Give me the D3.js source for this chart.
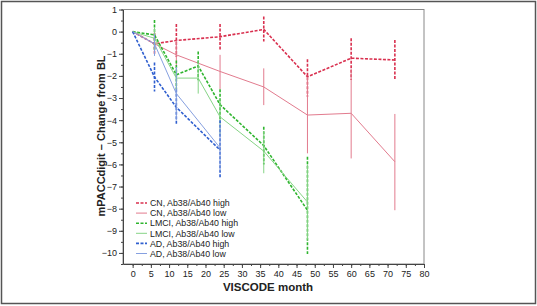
<!DOCTYPE html>
<html>
<head>
<meta charset="utf-8">
<script src="https://cdn.jsdelivr.net/npm/d3@7"></script>
<style>
  body { margin: 0; background: #fff; }
  svg { display: block; font-family: "Liberation Sans", Arial, sans-serif; }
</style>
</head>
<body>
<div id="chart"></div>
<script>
// values (mean, upper and lower end of the error bar)
const cnHighX = [0, 6, 12, 24, 36, 48, 60, 72];
const cnHighY = [0, -0.55, -0.4, -0.23, 0.1, -2.04, -1.2, -1.28];
const cnHighHi = [0, -0.05, 0.35, 0.35, 0.68, -1.25, -0.3, -0.38];
const cnHighLo = [0, -1.05, -1.15, -0.83, -0.45, -2.94, -2.19, -2.19];

const cnLowX = [0, 6, 12, 24, 36, 48, 60, 72];
const cnLowY = [0, -0.55, -1.05, -1.8, -2.5, -3.77, -3.69, -5.88];
const cnLowHi = [0, -0.1, -0.4, -1.05, -1.66, -2.05, -1.7, -3.72];
const cnLowLo = [0, -1.0, -1.7, -2.6, -3.32, -5.5, -5.73, -8.07];

const lmciHighX = [0, 6, 12, 18, 24, 36, 48];
const lmciHighY = [0, -0.15, -1.95, -1.55, -3.3, -5.15, -8.07];
const lmciHighHi = [0, 0.53, -1.3, -0.9, -2.6, -4.3, -5.65];
const lmciHighLo = [0, -0.85, -2.6, -2.2, -4.0, -6.0, -10.05];

const lmciLowX = [0, 6, 12, 18, 24, 36, 48];
const lmciLowY = [0, -0.3, -2.1, -2.1, -3.85, -5.4, -7.7];
const lmciLowHi = [0, 0.2, -1.6, -1.3, -3.0, -4.5, -6.0];
const lmciLowLo = [0, -0.8, -2.6, -2.8, -4.7, -6.4, -9.4];

const adHighX = [0, 6, 12, 24];
const adHighY = [0, -2.05, -3.42, -5.35];
const adHighHi = [0, -1.4, -2.6, -4.0];
const adHighLo = [0, -2.7, -4.22, -6.65];

const adLowX = [0, 6, 12, 24];
const adLowY = [0, -0.55, -2.8, -5.25];
const adLowHi = [0, -0.1, -1.6, -4.2];
const adLowLo = [0, -1.1, -4.0, -6.3];

const seriesNames = ["CN, Ab38/Ab40 high", "CN, Ab38/Ab40 low", "LMCI, Ab38/Ab40 high",
                     "LMCI, Ab38/Ab40 low", "AD, Ab38/Ab40 high", "AD, Ab38/Ab40 low"];
const xTicks = d3.range(0, 81, 5);
const yTicks = d3.range(-10, 2, 1);

const W = 537, H = 306;
const svg = d3.select("#chart").append("svg").attr("width", W).attr("height", H);

// outer frame
svg.append("rect").attr("x", 1.5).attr("y", 1.5).attr("width", W - 3).attr("height", H - 4)
    .attr("fill", "none").attr("stroke", "#555").attr("stroke-width", 1.5);

const x = d3.scaleLinear().domain([-2.65, 80]).range([123, 424]);
const y = d3.scaleLinear().domain([-10.5, 1]).range([264, 9.5]);

// plot box
svg.append("rect").attr("x", x.range()[0]).attr("y", y.range()[1])
    .attr("width", x.range()[1] - x.range()[0]).attr("height", y.range()[0] - y.range()[1])
    .attr("fill", "none").attr("stroke", "#888").attr("stroke-width", 1);

// minor ticks
svg.append("g").attr("transform", `translate(0,${y.range()[0]})`)
    .call(d3.axisBottom(x).tickValues(d3.range(0, 81, 2.5)).tickSize(2).tickFormat(""))
    .call(g => g.select(".domain").remove())
    .selectAll("line").attr("stroke", "#444");
svg.append("g").attr("transform", `translate(${x.range()[0]},0)`)
    .call(d3.axisLeft(y).tickValues(d3.range(-10.5, 1.01, 0.5)).tickSize(2).tickFormat(""))
    .call(g => g.select(".domain").remove())
    .selectAll("line").attr("stroke", "#444");

const xAxis = svg.append("g").attr("transform", `translate(0,${y.range()[0]})`)
    .call(d3.axisBottom(x).tickValues(xTicks).tickSize(4).tickPadding(3).tickSizeOuter(0));
xAxis.select(".domain").attr("stroke", "#444");
xAxis.selectAll("line").attr("stroke", "#444");
xAxis.selectAll("text").attr("font-size", 9).attr("fill", "#222").attr("font-family", "Liberation Sans, Arial, sans-serif");

const yAxis = svg.append("g").attr("transform", `translate(${x.range()[0]},0)`)
    .call(d3.axisLeft(y).tickValues(yTicks).tickSize(4).tickPadding(2).tickSizeOuter(0));
yAxis.select(".domain").attr("stroke", "#444");
yAxis.selectAll("line").attr("stroke", "#444");
yAxis.selectAll("text").attr("font-size", 9).attr("fill", "#222").attr("font-family", "Liberation Sans, Arial, sans-serif");

svg.append("text").attr("x", 268).attr("y", 291).attr("text-anchor", "middle")
    .attr("font-size", 11.5).attr("font-weight", "bold").attr("fill", "#222").text("VISCODE month");
svg.append("text").attr("transform", "translate(105,136) rotate(-90)").attr("text-anchor", "middle")
    .attr("font-size", 11).attr("font-weight", "bold").attr("fill", "#222").text("mPACCdigit \u2013 Change from BL");

const series = [
    { xs: cnHighX, ys: cnHighY, hi: cnHighHi, lo: cnHighLo, color: "#d9304f", dash: "3,1.5", w: 1.6 },
    { xs: cnLowX, ys: cnLowY, hi: cnLowHi, lo: cnLowLo, color: "#e27b8e", dash: null, w: 1 },
    { xs: lmciHighX, ys: lmciHighY, hi: lmciHighHi, lo: lmciHighLo, color: "#2fb52f", dash: "3,1.5", w: 1.6 },
    { xs: lmciLowX, ys: lmciLowY, hi: lmciLowHi, lo: lmciLowLo, color: "#86d486", dash: null, w: 1 },
    { xs: adHighX, ys: adHighY, hi: adHighHi, lo: adHighLo, color: "#2f5fcf", dash: "3,1.5", w: 1.6 },
    { xs: adLowX, ys: adLowY, hi: adLowHi, lo: adLowLo, color: "#86a0e0", dash: null, w: 1 }
];

const line = d3.line().x(d => x(d[0])).y(d => y(d[1]));

series.forEach(s => {
    const g = svg.append("g");
    const pts = s.xs.map((v, i) => [v, s.ys[i], s.hi[i], s.lo[i]]);
    g.selectAll("line").data(pts.filter(p => p[2] !== p[3])).join("line")
        .attr("x1", d => x(d[0])).attr("x2", d => x(d[0]))
        .attr("y1", d => y(d[2])).attr("y2", d => y(d[3]))
        .attr("stroke", s.color).attr("stroke-width", s.w)
        .attr("stroke-dasharray", s.dash);
    g.append("path").attr("d", line(pts)).attr("fill", "none")
        .attr("stroke", s.color).attr("stroke-width", s.w)
        .attr("stroke-dasharray", s.dash);
});

// legend
const leg = svg.append("g");
seriesNames.forEach((name, i) => {
    const s = series[i];
    const ly = 203 + i * 10.1;
    leg.append("line").attr("x1", 136).attr("x2", 147).attr("y1", ly).attr("y2", ly)
        .attr("stroke", s.color).attr("stroke-width", s.w).attr("stroke-dasharray", s.dash);
    leg.append("text").attr("x", 150).attr("y", ly + 3.2).attr("font-size", 8.8)
        .attr("fill", "#222").text(name);
});
</script>
</body>
</html>
